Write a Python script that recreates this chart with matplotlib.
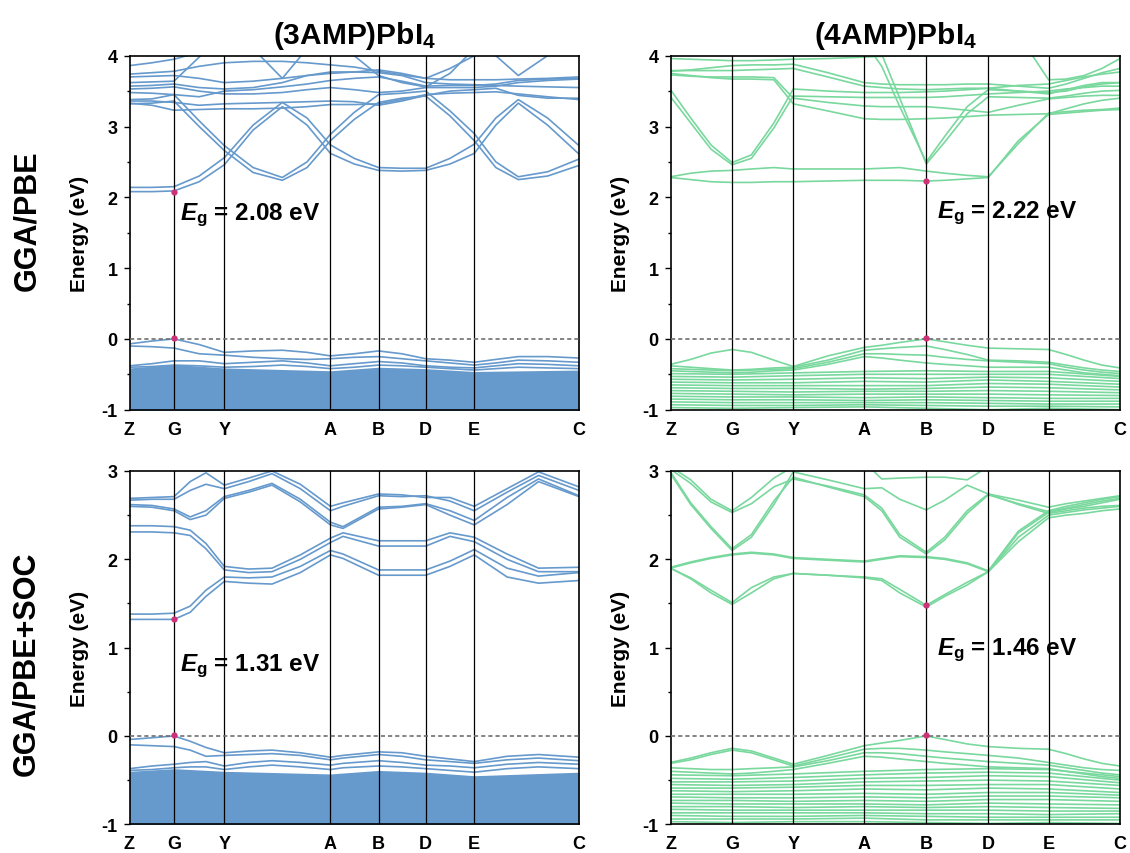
import matplotlib
matplotlib.use('Agg')
import matplotlib.pyplot as plt
from matplotlib.ticker import MultipleLocator

plt.rcParams['font.family'] = ['Liberation Sans', 'DejaVu Sans']
plt.rcParams['font.weight'] = 'bold'
plt.rcParams['axes.unicode_minus'] = False
plt.rcParams['mathtext.fontset'] = 'custom'
plt.rcParams['mathtext.rm'] = 'Liberation Sans:bold'
plt.rcParams['mathtext.it'] = 'Liberation Sans:bold:italic'
plt.rcParams['mathtext.bf'] = 'Liberation Sans:bold'

BLUE = '#6699cc'
GREEN = '#79d89d'
DOT = '#cc3377'

path_labels = ['Z', 'G', 'Y', 'A', 'B', 'D', 'E', 'C']
ksym_3amp = [0, 0.099, 0.211, 0.447, 0.554, 0.659, 0.767, 1.0]
ksym_4amp = [0, 0.137, 0.273, 0.431, 0.569, 0.707, 0.841, 1.0]

# ---------------- (3AMP)PbI4, GGA/PBE ----------------
k_3amp_pbe = [0, 0.05, 0.099, 0.155, 0.211, 0.275, 0.34, 0.395, 0.447, 0.50,
              0.554, 0.606, 0.659, 0.713, 0.767, 0.815, 0.865, 0.93, 1.0]
bands_3amp_pbe = [
    [2.08, 2.08, 2.09, 2.22, 2.46, 2.95, 3.28, 3.02, 2.62, 2.47, 2.38, 2.37, 2.38, 2.47, 2.62, 3.02, 3.33, 3.02, 2.61],
    [2.14, 2.14, 2.15, 2.30, 2.56, 3.02, 3.34, 3.12, 2.74, 2.55, 2.42, 2.41, 2.41, 2.55, 2.75, 3.12, 3.38, 3.12, 2.73],
    [3.32, 3.33, 3.36, 3.00, 2.66, 2.35, 2.24, 2.42, 2.80, 3.10, 3.34, 3.40, 3.43, 3.15, 2.80, 2.42, 2.25, 2.30, 2.45],
    [3.38, 3.39, 3.45, 3.08, 2.73, 2.42, 2.28, 2.50, 2.89, 3.20, 3.45, 3.47, 3.50, 3.22, 2.90, 2.50, 2.29, 2.36, 2.54],
    [3.33, 3.30, 3.23, 3.24, 3.25, 3.25, 3.26, 3.28, 3.31, 3.31, 3.32, 3.38, 3.45, 3.47, 3.48, 3.49, 3.46, 3.42, 3.38],
    [3.36, 3.36, 3.34, 3.30, 3.32, 3.33, 3.34, 3.35, 3.36, 3.35, 3.30, 3.36, 3.44, 3.50, 3.52, 3.54, 3.44, 3.40, 3.40],
    [3.48, 3.47, 3.45, 3.42, 3.50, 3.52, 3.56, 3.60, 3.65, 3.68, 3.70, 3.64, 3.57, 3.58, 3.58, 3.60, 3.65, 3.67, 3.68],
    [3.53, 3.54, 3.56, 3.50, 3.46, 3.46, 3.48, 3.52, 3.55, 3.52, 3.48, 3.50, 3.55, 3.55, 3.55, 3.57, 3.62, 3.65, 3.67],
    [3.57, 3.58, 3.60, 3.55, 3.53, 3.55, 3.62, 3.72, 3.77, 3.77, 3.76, 3.72, 3.62, 3.60, 3.59, 3.58, 3.57, 3.56, 3.55],
    [3.70, 3.71, 3.72, 3.68, 3.62, 3.64, 3.68, 3.72, 3.75, 3.77, 3.80, 3.75, 3.68, 3.82, 4.00, 4.15, 4.20, 4.20, 4.20],
    [3.74, 3.76, 3.78, 3.85, 3.90, 3.92, 3.92, 3.90, 3.87, 3.84, 3.78, 3.73, 3.68, 3.66, 3.66, 3.66, 3.67, 3.68, 3.70],
    [3.86, 3.90, 3.95, 4.05, 4.15, 4.10, 3.68, 4.10, 4.30, 4.00, 3.72, 3.62, 3.56, 3.75, 4.10, 4.00, 3.72, 4.00, 4.30],
    [3.62, 3.63, 3.64, 3.98, 4.30, 4.30, 4.30, 4.30, 4.30, 4.30, 4.30, 4.30, 4.30, 4.30, 4.30, 4.30, 4.30, 4.30, 4.30],
    [-0.07, -0.03, 0.00, -0.08, -0.19, -0.17, -0.16, -0.19, -0.24, -0.21, -0.17, -0.21, -0.28, -0.30, -0.33, -0.29, -0.25, -0.25, -0.27],
    [-0.10, -0.11, -0.13, -0.21, -0.23, -0.26, -0.28, -0.29, -0.28, -0.26, -0.25, -0.28, -0.31, -0.34, -0.37, -0.34, -0.30, -0.31, -0.33],
    [-0.38, -0.35, -0.31, -0.31, -0.35, -0.33, -0.31, -0.34, -0.38, -0.35, -0.32, -0.34, -0.38, -0.40, -0.41, -0.38, -0.35, -0.36, -0.38],
    [-0.40, -0.39, -0.37, -0.38, -0.40, -0.39, -0.37, -0.39, -0.42, -0.40, -0.37, -0.38, -0.40, -0.42, -0.44, -0.42, -0.40, -0.41, -0.42],
]
dense_top_3amp_pbe = [-0.41, -0.36, -0.41, -0.45, -0.40, -0.42, -0.46, -0.44]

# ---------------- (3AMP)PbI4, GGA/PBE+SOC ----------------
k_3amp_soc = [0, 0.05, 0.099, 0.135, 0.17, 0.211, 0.265, 0.317, 0.38, 0.447,
              0.475, 0.554, 0.606, 0.659, 0.713, 0.767, 0.84, 0.91, 1.0]
bands_3amp_soc = [
    [1.32, 1.32, 1.32, 1.40, 1.58, 1.75, 1.73, 1.72, 1.85, 2.05, 2.01, 1.82, 1.82, 1.82, 1.92, 2.05, 1.80, 1.73, 1.76],
    [1.38, 1.38, 1.39, 1.47, 1.65, 1.80, 1.79, 1.80, 1.92, 2.10, 2.06, 1.88, 1.88, 1.88, 1.98, 2.11, 1.90, 1.81, 1.85],
    [2.31, 2.31, 2.30, 2.27, 2.12, 1.88, 1.85, 1.86, 2.00, 2.19, 2.26, 2.15, 2.15, 2.15, 2.26, 2.20, 2.00, 1.86, 1.86],
    [2.38, 2.38, 2.37, 2.33, 2.18, 1.92, 1.89, 1.90, 2.05, 2.24, 2.30, 2.21, 2.21, 2.21, 2.30, 2.25, 2.06, 1.90, 1.91],
    [2.69, 2.70, 2.71, 2.88, 2.98, 2.84, 2.92, 3.00, 2.85, 2.60, 2.64, 2.74, 2.73, 2.70, 2.70, 2.60, 2.80, 2.99, 2.82],
    [2.67, 2.68, 2.68, 2.78, 2.85, 2.80, 2.88, 2.97, 2.80, 2.55, 2.60, 2.72, 2.71, 2.72, 2.66, 2.55, 2.76, 2.95, 2.78],
    [2.62, 2.61, 2.57, 2.48, 2.55, 2.71, 2.78, 2.86, 2.68, 2.42, 2.37, 2.59, 2.60, 2.63, 2.55, 2.44, 2.70, 2.91, 2.72],
    [2.60, 2.59, 2.55, 2.45, 2.50, 2.69, 2.76, 2.84, 2.65, 2.39, 2.35, 2.57, 2.59, 2.62, 2.50, 2.39, 2.62, 2.88, 2.71],
    [-0.04, -0.02, 0.00, -0.06, -0.13, -0.19, -0.17, -0.16, -0.19, -0.24, -0.22, -0.18, -0.19, -0.23, -0.26, -0.29, -0.23, -0.21, -0.24],
    [-0.10, -0.11, -0.12, -0.16, -0.23, -0.22, -0.21, -0.20, -0.22, -0.27, -0.25, -0.21, -0.23, -0.27, -0.29, -0.31, -0.27, -0.25, -0.28],
    [-0.37, -0.34, -0.32, -0.30, -0.29, -0.34, -0.30, -0.28, -0.30, -0.33, -0.31, -0.28, -0.30, -0.33, -0.34, -0.36, -0.32, -0.30, -0.32],
    [-0.39, -0.38, -0.36, -0.35, -0.35, -0.38, -0.35, -0.33, -0.35, -0.38, -0.36, -0.34, -0.35, -0.37, -0.39, -0.41, -0.37, -0.35, -0.37],
]
dense_top_3amp_soc = [-0.40, -0.37, -0.40, -0.43, -0.39, -0.41, -0.45, -0.41]

# ---------------- (4AMP)PbI4 k-path ----------------
k_4amp = [0, 0.045, 0.09, 0.137, 0.18, 0.23, 0.273, 0.35, 0.431, 0.47, 0.51,
          0.569, 0.61, 0.66, 0.707, 0.774, 0.841, 0.88, 0.92, 0.96, 1.0]

# ---------------- (4AMP)PbI4, GGA/PBE ----------------
bands_4amp_pbe = [
    [2.28, 2.25, 2.22, 2.21, 2.21, 2.22, 2.22, 2.23, 2.24, 2.24, 2.24, 2.23, 2.24, 2.26, 2.28, 2.80, 3.17, 3.19, 3.21, 3.23, 3.24],
    [2.29, 2.34, 2.37, 2.38, 2.40, 2.42, 2.40, 2.40, 2.40, 2.41, 2.42, 2.37, 2.34, 2.31, 2.29, 2.76, 3.19, 3.21, 3.23, 3.24, 3.26],
    [3.42, 3.05, 2.68, 2.46, 2.55, 2.98, 3.43, 3.42, 3.41, 3.41, 3.41, 3.41, 3.42, 3.44, 3.46, 3.48, 3.50, 3.53, 3.55, 3.57, 3.57],
    [3.52, 3.12, 2.74, 2.49, 2.60, 3.05, 3.53, 3.50, 3.48, 3.48, 3.48, 3.49, 3.50, 3.52, 3.54, 3.58, 3.60, 3.65, 3.70, 3.74, 3.77],
    [4.30, 4.30, 4.30, 4.30, 4.30, 4.30, 4.30, 4.30, 4.30, 4.02, 3.40, 2.47, 2.78, 3.18, 3.42, 3.41, 3.40, 3.43, 3.47, 3.50, 3.51],
    [4.30, 4.30, 4.30, 4.30, 4.30, 4.30, 4.30, 4.30, 4.20, 3.85, 3.28, 2.50, 2.86, 3.28, 3.52, 3.50, 3.48, 3.50, 3.56, 3.60, 3.62],
    [3.96, 3.95, 3.94, 3.93, 3.93, 3.94, 3.95, 3.96, 3.98, 3.99, 4.00, 4.00, 4.00, 4.01, 4.05, 4.15, 4.20, 4.20, 4.20, 4.20, 4.20],
    [3.79, 3.79, 3.79, 3.79, 3.80, 3.81, 3.82, 3.70, 3.57, 3.55, 3.53, 3.52, 3.53, 3.54, 3.54, 3.50, 3.46, 3.52, 3.58, 3.62, 3.62],
    [3.75, 3.72, 3.69, 3.67, 3.67, 3.66, 3.32, 3.22, 3.11, 3.10, 3.10, 3.11, 3.12, 3.14, 3.16, 3.17, 3.18, 3.25, 3.32, 3.37, 3.40],
    [3.78, 3.80, 3.83, 3.86, 3.87, 3.87, 3.88, 3.76, 3.62, 3.60, 3.59, 3.59, 3.59, 3.60, 3.60, 3.57, 3.54, 3.60, 3.68, 3.76, 3.82],
    [3.73, 3.71, 3.70, 3.70, 3.70, 3.69, 3.40, 3.34, 3.29, 3.28, 3.28, 3.28, 3.26, 3.23, 3.20, 3.30, 3.39, 3.41, 3.43, 3.44, 3.44],
    [4.30, 4.30, 4.30, 4.30, 4.30, 4.30, 4.30, 4.30, 4.30, 4.30, 4.30, 4.30, 4.30, 4.30, 4.30, 4.30, 3.66, 3.67, 3.72, 3.82, 3.96],
    [-0.36, -0.29, -0.20, -0.15, -0.19, -0.30, -0.39, -0.24, -0.12, -0.09, -0.05, 0.00, -0.04, -0.09, -0.13, -0.14, -0.15, -0.22, -0.30, -0.37, -0.41],
    [-0.38, -0.40, -0.42, -0.44, -0.43, -0.41, -0.40, -0.30, -0.16, -0.14, -0.12, -0.10, -0.15, -0.22, -0.30, -0.31, -0.33, -0.37, -0.41, -0.44, -0.46],
    [-0.42, -0.43, -0.44, -0.45, -0.44, -0.43, -0.42, -0.33, -0.21, -0.21, -0.22, -0.23, -0.26, -0.29, -0.31, -0.33, -0.35, -0.40, -0.44, -0.47, -0.49],
    [-0.45, -0.46, -0.47, -0.48, -0.47, -0.45, -0.44, -0.36, -0.25, -0.27, -0.30, -0.34, -0.36, -0.38, -0.40, -0.40, -0.40, -0.44, -0.48, -0.50, -0.52],
]
# deep valence bands, read at the high-symmetry points only
deep_4amp_pbe = [
    [-0.49, -0.50, -0.48, -0.46, -0.45, -0.46, -0.46, -0.53],
    [-0.53, -0.54, -0.52, -0.50, -0.50, -0.50, -0.50, -0.56],
    [-0.57, -0.58, -0.57, -0.55, -0.56, -0.54, -0.55, -0.60],
    [-0.61, -0.62, -0.62, -0.60, -0.61, -0.58, -0.60, -0.64],
    [-0.65, -0.66, -0.66, -0.66, -0.66, -0.63, -0.64, -0.68],
    [-0.69, -0.70, -0.70, -0.71, -0.70, -0.68, -0.69, -0.72],
    [-0.73, -0.74, -0.75, -0.74, -0.74, -0.73, -0.74, -0.76],
    [-0.77, -0.78, -0.79, -0.78, -0.78, -0.78, -0.79, -0.80],
    [-0.81, -0.82, -0.82, -0.83, -0.82, -0.83, -0.84, -0.84],
    [-0.85, -0.86, -0.86, -0.87, -0.86, -0.87, -0.88, -0.88],
    [-0.89, -0.90, -0.90, -0.90, -0.90, -0.91, -0.92, -0.92],
    [-0.93, -0.94, -0.94, -0.93, -0.94, -0.95, -0.95, -0.96],
    [-0.97, -0.98, -0.97, -0.96, -0.98, -1.00, -0.98, -1.00],
]

# ---------------- (4AMP)PbI4, GGA/PBE+SOC ----------------
bands_4amp_soc = [
    [1.90, 1.78, 1.62, 1.49, 1.62, 1.78, 1.84, 1.82, 1.79, 1.76, 1.62, 1.46, 1.58, 1.71, 1.86, 2.20, 2.47, 2.50, 2.52, 2.55, 2.57],
    [1.90, 1.79, 1.65, 1.51, 1.68, 1.80, 1.84, 1.82, 1.80, 1.78, 1.66, 1.48, 1.60, 1.74, 1.86, 2.25, 2.50, 2.53, 2.56, 2.58, 2.60],
    [1.90, 1.96, 2.01, 2.05, 2.07, 2.05, 2.01, 1.99, 1.97, 2.00, 2.03, 2.02, 2.00, 1.95, 1.86, 2.30, 2.53, 2.57, 2.60, 2.64, 2.68],
    [1.91, 1.97, 2.02, 2.06, 2.08, 2.06, 2.02, 2.00, 1.98, 2.01, 2.04, 2.03, 2.01, 1.96, 1.87, 2.32, 2.55, 2.60, 2.64, 2.68, 2.71],
    [2.97, 2.62, 2.35, 2.10, 2.25, 2.62, 2.99, 2.90, 2.80, 2.81, 2.68, 2.56, 2.67, 2.84, 2.74, 2.67, 2.59, 2.63, 2.66, 2.69, 2.72],
    [2.99, 2.64, 2.37, 2.12, 2.28, 2.66, 2.93, 2.82, 2.71, 2.55, 2.25, 2.06, 2.22, 2.52, 2.73, 2.63, 2.54, 2.58, 2.62, 2.66, 2.69],
    [3.02, 2.86, 2.65, 2.53, 2.63, 2.82, 2.91, 2.83, 2.73, 2.58, 2.28, 2.08, 2.25, 2.55, 2.74, 2.62, 2.52, 2.55, 2.58, 2.60, 2.61],
    [3.05, 2.90, 2.68, 2.55, 2.70, 2.92, 3.05, 3.15, 3.10, 2.91, 2.92, 2.93, 2.93, 2.90, 3.05, 3.20, 3.30, 3.30, 3.30, 3.30, 3.30],
    [-0.30, -0.25, -0.19, -0.14, -0.17, -0.25, -0.32, -0.22, -0.11, -0.08, -0.05, 0.00, -0.04, -0.09, -0.12, -0.14, -0.15, -0.20, -0.26, -0.31, -0.34],
    [-0.31, -0.27, -0.21, -0.16, -0.19, -0.27, -0.34, -0.25, -0.15, -0.14, -0.14, -0.16, -0.18, -0.20, -0.22, -0.25, -0.30, -0.33, -0.36, -0.38, -0.39],
    [-0.36, -0.37, -0.38, -0.38, -0.37, -0.36, -0.35, -0.28, -0.19, -0.19, -0.20, -0.23, -0.25, -0.27, -0.29, -0.31, -0.33, -0.36, -0.39, -0.42, -0.44],
    [-0.40, -0.41, -0.42, -0.43, -0.42, -0.40, -0.38, -0.31, -0.23, -0.24, -0.26, -0.29, -0.31, -0.33, -0.35, -0.36, -0.37, -0.40, -0.43, -0.46, -0.48],
]
deep_4amp_soc = [
    [-0.44, -0.45, -0.43, -0.40, -0.38, -0.37, -0.38, -0.46],
    [-0.48, -0.49, -0.47, -0.44, -0.42, -0.41, -0.42, -0.50],
    [-0.52, -0.52, -0.51, -0.48, -0.47, -0.45, -0.46, -0.53],
    [-0.55, -0.56, -0.55, -0.52, -0.51, -0.50, -0.51, -0.56],
    [-0.59, -0.59, -0.58, -0.56, -0.56, -0.55, -0.55, -0.60],
    [-0.62, -0.63, -0.62, -0.60, -0.61, -0.59, -0.60, -0.64],
    [-0.66, -0.66, -0.66, -0.65, -0.66, -0.64, -0.64, -0.67],
    [-0.69, -0.70, -0.70, -0.69, -0.70, -0.68, -0.68, -0.70],
    [-0.73, -0.73, -0.74, -0.73, -0.74, -0.72, -0.72, -0.74],
    [-0.76, -0.77, -0.77, -0.77, -0.78, -0.76, -0.77, -0.78],
    [-0.80, -0.80, -0.81, -0.80, -0.81, -0.80, -0.81, -0.82],
    [-0.83, -0.84, -0.84, -0.84, -0.84, -0.84, -0.85, -0.85],
    [-0.87, -0.87, -0.87, -0.87, -0.88, -0.88, -0.89, -0.88],
    [-0.90, -0.91, -0.91, -0.90, -0.91, -0.92, -0.92, -0.92],
    [-0.94, -0.94, -0.94, -0.93, -0.95, -0.95, -0.95, -0.95],
    [-0.97, -0.98, -0.97, -0.97, -0.98, -0.99, -0.98, -0.99],
]

# band-edge markers (k index of path point, energies) and gap labels
edges_3amp_pbe = (1, [2.08, 0.01])
edges_3amp_soc = (1, [1.32, 0.01])
edges_4amp_pbe = (4, [2.23, 0.01])
edges_4amp_soc = (4, [1.48, 0.01])
gap_labels = ['2.08', '1.31', '2.22', '1.46']


def draw_panel(ax, kpts, bands, ksym, color, ylim, edges, gap, gap_xy,
               dense_top=None, deep=None, title=None):
    for b in bands:
        ax.plot(kpts, b, color=color, lw=1.2, zorder=2, solid_joinstyle='round')
    if dense_top is not None:
        ax.fill_between(ksym, dense_top, ylim[0] - 0.2, color=color, lw=0, zorder=2)
    if deep is not None:
        for b in deep:
            ax.plot(ksym, b, color=color, lw=1.2, zorder=2)
    for k in ksym[1:-1]:
        ax.axvline(k, color='black', lw=0.9, zorder=3)
    ax.axhline(0, color='#707070', lw=1.2, ls=(0, (2.5, 1.8)), zorder=3)
    ki, ens = edges
    ax.plot([ksym[ki]] * 2, ens, 'o', color=DOT, ms=4.5, mec='none', zorder=5)
    ax.text(gap_xy[0], gap_xy[1], r'$E_\mathrm{g}$ = ' + gap + ' eV',
            fontsize=17.5, fontweight='bold', va='baseline', ha='left', zorder=6)

    ax.set_xlim(0, 1)
    ax.set_ylim(*ylim)
    ax.set_xticks(ksym)
    ax.set_xticklabels(path_labels)
    ax.set_yticks(range(ylim[0], ylim[1] + 1))
    ax.yaxis.set_minor_locator(MultipleLocator(0.5))
    ax.tick_params(axis='x', length=0, pad=8, labelsize=13)
    ax.tick_params(axis='y', which='major', direction='out', length=4.5,
                   width=1.0, labelsize=13, pad=4)
    ax.tick_params(axis='y', which='minor', direction='out', length=2.5, width=1.0)
    for s in ax.spines.values():
        s.set_linewidth(1.2)
    ax.set_ylabel('Energy (eV)', fontsize=15, fontweight='bold', labelpad=9)
    if title:
        ax.set_title(title, fontsize=21.5, fontweight='bold', pad=9)


fig = plt.figure(figsize=(11.3, 8.54), dpi=100)
W, H = 1130.0, 854.0
ax1 = fig.add_axes([129.5 / W, 1 - 410.7 / H, 449.5 / W, 354 / H])
ax2 = fig.add_axes([670.5 / W, 1 - 410.7 / H, 449.5 / W, 354 / H])
ax3 = fig.add_axes([129.5 / W, 1 - 825.3 / H, 449.5 / W, 353.3 / H])
ax4 = fig.add_axes([670.5 / W, 1 - 825.3 / H, 449.5 / W, 353.3 / H])

draw_panel(ax1, k_3amp_pbe, bands_3amp_pbe, ksym_3amp, BLUE, (-1, 4),
           edges_3amp_pbe, gap_labels[0], (0.112, 1.69),
           dense_top=dense_top_3amp_pbe, title=r'(3AMP)PbI$_\mathrm{4}$')
draw_panel(ax2, k_4amp, bands_4amp_pbe, ksym_4amp, GREEN, (-1, 4),
           edges_4amp_pbe, gap_labels[2], (0.593, 1.72),
           deep=deep_4amp_pbe, title=r'(4AMP)PbI$_\mathrm{4}$')
draw_panel(ax3, k_3amp_soc, bands_3amp_soc, ksym_3amp, BLUE, (-1, 3),
           edges_3amp_soc, gap_labels[1], (0.112, 0.75),
           dense_top=dense_top_3amp_soc)
draw_panel(ax4, k_4amp, bands_4amp_soc, ksym_4amp, GREEN, (-1, 3),
           edges_4amp_soc, gap_labels[3], (0.593, 0.93),
           deep=deep_4amp_soc)

fig.text(27 / W, 1 - 221 / H, 'GGA/PBE', rotation=90, fontsize=22,
         fontweight='bold', ha='center', va='center')
fig.text(26 / W, 1 - 664 / H, 'GGA/PBE+SOC', rotation=90, fontsize=22,
         fontweight='bold', ha='center', va='center')

fig.savefig('out.png', dpi=100)
